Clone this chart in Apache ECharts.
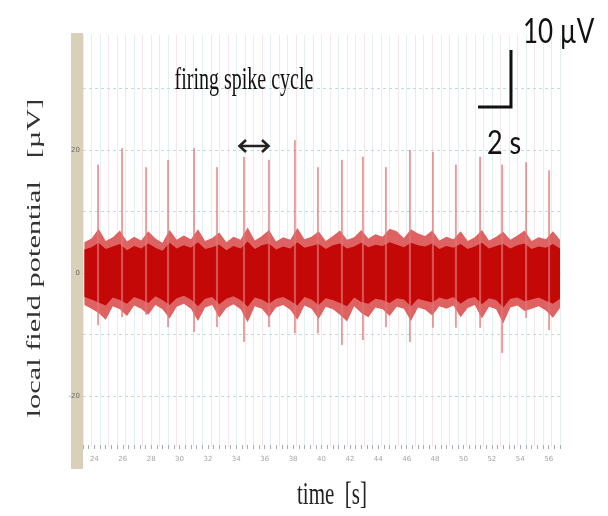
<!DOCTYPE html>
<html><head><meta charset="utf-8">
<script src="https://cdn.jsdelivr.net/npm/echarts@6.0.0/dist/echarts.min.js"></script>
<style>html,body{margin:0;padding:0;background:#fff}#c{width:608px;height:516px}</style>
</head><body><div id="c"></div>
<script>
// ---- data ----
const xTickValues = [24,26,28,30,32,34,36,38,40,42,44,46,48,50,52,54,56];
const yTickValues = [20,0,-20];
const gridLevels = [30,20,10,0,-10,-20];

const spikeTimes   = [24.26,25.95,27.64,29.19,31.02,32.64,34.54,36.30,38.13,39.75,41.44,42.92,44.54,46.23,47.85,49.47,51.17,52.72,54.41,56.03];
const spikeTops    = [17.6,20.3,17.2,18.4,20.3,17.2,18.9,18.4,21.6,17.2,18.4,18.9,17.2,20.0,19.7,17.6,18.9,17.6,18.0,16.7];
const spikeBottoms = [-8.5,-7.2,-6.8,-8.8,-9.6,-8.8,-11.2,-8.8,-9.8,-9.8,-11.7,-10.9,-8.8,-11.2,-8.9,-8.9,-8.9,-13.0,-7.3,-9.3];

const bandTimes = [23.3,23.8,24.3,24.8,25.3,25.8,26.3,26.8,27.3,27.8,28.3,28.8,29.3,29.8,30.3,30.8,31.3,31.8,32.3,32.8,
  33.3,33.8,34.3,34.8,35.3,35.8,36.3,36.8,37.3,37.8,38.3,38.8,39.3,39.8,40.3,40.8,41.3,41.8,42.3,42.8,
  43.3,43.8,44.3,44.8,45.3,45.8,46.3,46.8,47.3,47.8,48.3,48.8,49.3,49.8,50.3,50.8,51.3,51.8,52.3,52.8,
  53.3,53.8,54.3,54.8,55.3,55.8,56.3,56.8];
const outerUpper = [5.0,5.6,7.2,5.2,5.8,6.9,5.1,5.9,5.3,6.8,
  5.6,4.9,7.0,5.4,6.1,5.5,7.1,5.2,5.7,6.6,
  5.0,5.9,5.4,7.4,5.3,6.0,7.0,5.1,5.8,5.4,
  7.3,5.5,5.9,6.8,5.2,6.0,6.9,5.4,5.8,7.0,
  5.6,6.3,5.9,7.2,6.8,5.7,7.1,6.4,6.0,6.9,
  5.3,5.9,5.5,6.8,5.2,5.8,7.0,5.3,5.9,6.7,
  5.4,6.1,6.9,5.2,5.8,5.5,6.8,5.4];
const outerLower = [-5.2,-5.8,-6.5,-7.6,-5.4,-5.9,-7.0,-5.3,-5.8,-6.8,
  -5.2,-5.9,-7.4,-5.5,-5.0,-5.8,-7.8,-5.6,-5.2,-7.3,
  -5.7,-5.1,-5.9,-8.0,-5.4,-5.8,-7.2,-5.6,-5.2,-6.0,
  -7.6,-5.3,-5.8,-7.5,-5.5,-5.9,-6.8,-7.9,-5.4,-6.5,
  -7.2,-5.6,-5.9,-7.0,-5.5,-5.8,-7.8,-5.6,-6.0,-6.9,
  -5.4,-5.8,-5.3,-7.2,-5.7,-5.2,-7.4,-5.5,-5.9,-8.2,
  -5.6,-5.3,-6.2,-5.8,-5.4,-6.1,-7.3,-5.7];
const innerUpper = [3.8,4.2,4.9,3.9,4.3,4.7,3.7,4.4,4.0,4.8,
  4.1,3.6,4.9,4.0,4.5,4.1,5.0,3.9,4.2,4.6,
  3.7,4.4,4.0,5.1,3.9,4.5,4.8,3.8,4.3,4.0,
  5.0,4.1,4.4,4.7,3.9,4.5,4.8,4.0,4.3,4.9,
  4.2,4.6,4.4,5.0,4.6,4.2,4.9,4.5,4.3,4.8,
  3.9,4.4,4.1,4.7,3.9,4.3,4.9,4.0,4.4,4.7,
  4.0,4.5,4.8,3.9,4.3,4.1,4.7,4.0];
const innerLower = [-3.9,-4.3,-4.8,-5.3,-4.0,-4.4,-5.0,-3.9,-4.3,-4.9,
  -3.8,-4.4,-5.2,-4.1,-3.7,-4.3,-5.4,-4.2,-3.9,-5.1,
  -4.2,-3.8,-4.4,-5.5,-4.0,-4.3,-5.0,-4.2,-3.9,-4.5,
  -5.3,-3.9,-4.3,-5.2,-4.1,-4.4,-4.9,-5.4,-4.0,-4.7,
  -5.0,-4.2,-4.4,-4.9,-4.1,-4.3,-5.4,-4.2,-4.5,-4.8,
  -4.0,-4.3,-3.9,-5.0,-4.2,-3.9,-5.1,-4.1,-4.4,-5.6,
  -4.2,-4.0,-4.6,-4.3,-4.0,-4.5,-5.0,-4.2];

// ---- chart ----
const chart = echarts.init(document.getElementById('c'), null, {renderer:'canvas'});

// band drawn as one polygon (upper edge forward, lower edge back) through the axis scales
const bandSeries = (name, up, lo, color, z) => ({
  type:'custom', name:name, z:z, silent:true,
  data: bandTimes.map((t,i)=>[t, up[i], lo[i]]),
  encode:{x:0, y:[1,2]},
  renderItem:(p, api)=>{
    if (p.dataIndex !== 0) return null;
    const pts = [];
    for (let i=0;i<bandTimes.length;i++) pts.push(api.coord([bandTimes[i], up[i]]));
    for (let i=bandTimes.length-1;i>=0;i--) pts.push(api.coord([bandTimes[i], lo[i]]));
    return {type:'polygon', shape:{points:pts}, style:{fill:color}};
  }
});

const txt = (o) => Object.assign({type:'text', z:100}, o);

const option = {
  animation:false,
  backgroundColor:'#ffffff',
  grid:{left:83, right:48, top:35, bottom:69},
  xAxis:[
    {type:'value', min:23.2, max:56.8, position:'bottom',
     axisLine:{show:true, lineStyle:{color:'#9ea3a8', width:1}},
     axisTick:{show:true, customValues:xTickValues, length:4, lineStyle:{color:'#9ea3a8'}},
     axisLabel:{customValues:xTickValues, fontSize:7, color:'#a6a6a6', margin:9, fontFamily:'DejaVu Sans'},
     splitLine:{show:false}},
    {type:'value', min:0, max:84, interval:1, position:'bottom',
     axisLine:{show:false}, axisTick:{show:true, length:2, lineStyle:{color:'#a8adb2'}},
     axisLabel:{show:false}, splitLine:{show:false}},
    {type:'value', min:0, max:84, interval:1, position:'bottom',
     axisLine:{show:false}, axisTick:{show:true, inside:true, length:2, lineStyle:{color:'#a8adb2'}},
     axisLabel:{show:false}, splitLine:{show:false}},
    {type:'value', min:0, max:56, interval:1, position:'top',
     axisLine:{show:false}, axisTick:{show:false}, axisLabel:{show:false},
     splitLine:{show:true, lineStyle:{color:['#e2f0f2','#f6e6e9'], width:1}}}
  ],
  yAxis:{type:'value', min:-28.3, max:38.7,
    axisLine:{show:false}, axisTick:{show:false}, splitLine:{show:false},
    axisLabel:{customValues:yTickValues, fontSize:7, color:'#6b6b6b', margin:3, fontFamily:'DejaVu Sans'}},
  series:[
    {type:'line', name:'grid', data:[[bandTimes[0],0]], symbol:'none', lineStyle:{opacity:0}, silent:true, z:1,
     markLine:{silent:true, z:1, symbol:'none', label:{show:false},
       lineStyle:{color:'#bcdde2', type:[3,3], width:1},
       data:gridLevels.map(v=>({yAxis:v}))}},
    bandSeries('outer', outerUpper, outerLower, '#df6262', 2),
    bandSeries('inner', innerUpper, innerLower, '#c40808', 3),
    {type:'custom', name:'spikes', z:5, silent:true,
     data: spikeTimes.map((t,i)=>[t, spikeTops[i], spikeBottoms[i]]),
     encode:{x:0, y:[1,2]},
     renderItem:(p, api)=>{
       const a = api.coord([api.value(0), api.value(1)]);
       const b = api.coord([api.value(0), api.value(2)]);
       return {type:'group', children:[
         {type:'line', shape:{x1:a[0],y1:a[1],x2:b[0],y2:b[1]}, style:{stroke:'rgba(240,170,170,0.35)', lineWidth:2.2}},
         {type:'line', shape:{x1:a[0],y1:a[1],x2:b[0],y2:b[1]}, style:{stroke:'#db6464', lineWidth:1}}
       ]};
     }}
  ],
  graphic:[
    {type:'rect', z:0, shape:{x:71, y:33, width:12, height:436}, style:{fill:'#d8d0b9'}},
    txt({x:244, y:81, scaleY:1.6, style:{text:'firing spike cycle', font:'20px "Liberation Serif"', fill:'#111',
       align:'center', verticalAlign:'middle', textAlign:'center', textVerticalAlign:'middle'}}),
    {type:'line', z:100, shape:{x1:241, y1:146, x2:267, y2:146}, style:{stroke:'#222', lineWidth:2.5}},
    {type:'polyline', z:100, shape:{points:[[246,140],[239.5,146],[246,152]]}, style:{stroke:'#222', lineWidth:2.6, fill:null}},
    {type:'polyline', z:100, shape:{points:[[262,140],[268.5,146],[262,152]]}, style:{stroke:'#222', lineWidth:2.6, fill:null}},
    {type:'polyline', z:100, shape:{points:[[478,107],[511,107],[511,50]]}, style:{stroke:'#111', lineWidth:3, fill:null, lineJoin:'miter'}},
    txt({x:523, y:32, scaleY:1.3, style:{text:'10 µV', font:'26px Lato', fill:'#111',
       align:'left', verticalAlign:'middle', textAlign:'left', textVerticalAlign:'middle'}}),
    txt({x:487, y:143, scaleY:1.25, style:{text:'2 s', font:'27px Lato', fill:'#111',
       align:'left', verticalAlign:'middle', textAlign:'left', textVerticalAlign:'middle'}}),
    txt({x:35, y:258, rotation:Math.PI/2, scaleX:1.6, style:{text:'local field potential   [µV]', font:'19px "Liberation Serif"', fill:'#333',
       align:'center', verticalAlign:'middle', textAlign:'center', textVerticalAlign:'middle'}}),
    txt({x:332, y:496, scaleY:1.5, style:{text:'time  [s]', font:'21px "Liberation Serif"', fill:'#222',
       align:'center', verticalAlign:'middle', textAlign:'center', textVerticalAlign:'middle'}})
  ]
};
chart.setOption(option);
</script></body></html>
